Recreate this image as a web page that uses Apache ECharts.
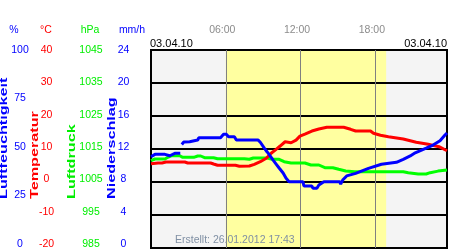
<!DOCTYPE html>
<html>
<head>
<meta charset="utf-8">
<script src="https://cdn.jsdelivr.net/npm/echarts@6/dist/echarts.min.js"></script>
<style>html,body{margin:0;padding:0;background:#fff}#c{width:450px;height:250px}</style>
</head>
<body>
<div id="c"></div>
<script>
// ---- data (hours since 00:00 of 03.04.10) ----
const humTimes = [0,0.32,1.12,1.2,1.51,1.91,2.35,2.4,2.47,2.63,3.1,3.19,3.75,3.83,5.58,5.82,6.06,6.22,6.69,6.85,8.6,8.77,8.93,9.09,9.32,9.56,9.8,10.04,10.28,10.6,10.84,11.08,12.19,12.27,12.91,12.99,13.31,13.47,13.87,15.14,15.22,15.38,15.7,16.42,17.45,18.49,19.69,20.24,20.8,21.2,22.08,22.63,23.19,23.59,23.75];
const humValues = [46.1,47.3,47.3,46.6,46.6,47.8,47.8,null,52.3,53.5,53.7,54.5,54.5,55.7,55.7,57.4,57.4,56.2,56.2,54.5,54.5,53.4,53.0,50.4,48.5,46.5,44.4,42.4,40.4,37.9,35.2,33.5,33.5,31.3,31.3,30.2,30.2,31.8,33.5,33.5,32.3,34.3,36.4,37.7,40.2,42.3,43.3,44.8,46.5,48.1,50.4,52.0,54.2,57.1,58.1];

const tempTimes = [0,0.56,0.88,1.2,2.71,2.95,4.78,5.02,5.34,6.77,7.09,7.89,8.29,8.77,9.25,9.64,10.04,10.36,10.76,11.24,11.64,11.95,12.35,12.91,13.47,14.11,15.46,16.02,16.42,17.61,17.85,18.41,19.05,20.24,21.28,22.24,23.11,23.75];
const tempValues = [5.55,5.76,5.76,6.06,6.06,5.76,5.76,5.45,5.06,5.06,4.76,4.85,5.36,6.15,7.18,8.7,9.91,10.9,12.2,11.9,12.7,13.9,14.5,15.45,16.06,16.58,16.58,15.97,15.45,15.45,14.76,14.15,13.73,13.03,12.03,11.42,10.7,9.48];

const presTimes = [0,0.32,1.12,1.35,1.67,2.31,2.55,3.43,3.75,3.99,4.3,5.02,5.34,7.49,7.89,8.21,9.33,9.72,10.28,10.68,11.24,12.35,12.83,13.47,13.95,14.59,15.06,15.62,16.34,20.24,20.64,21.44,22.08,22.4,23.03,23.75];
const presValues = [1011.45,1011.97,1011.97,1012.48,1012.97,1012.97,1012.48,1012.48,1012.88,1012.88,1012.36,1012.36,1012.06,1012.06,1011.88,1012.27,1012.27,1011.88,1011.88,1011.15,1010.76,1010.76,1010.15,1010.15,1009.33,1009.33,1008.85,1008.33,1008.12,1008.12,1007.82,1007.42,1007.42,1007.82,1008.3,1008.64];

const humTicks = ['0','25','50','75','100'];
const tempTicks = ['-20','-10','0','10','20','30','40'];
const presTicks = ['985','995','1005','1015','1025','1035','1045'];
const rainTicks = ['0','4','8','12','16','20','24'];
const timeMarks = [6,12,18];
const daylight = [6, 18.87];
const dateLabel = '03.04.10';
const createdLabel = 'Erstellt: 26.01.2012 17:43';

const FONT = '"Liberation Sans", Arial, sans-serif';
const pair = (t, v) => t.map((x, i) => [x, v[i]]);
const labelAxis = (data, color, offset) => ({
  type: 'category', gridIndex: 1, position: 'left', offset: offset, data: data,
  boundaryGap: false,
  axisLine: {show: false}, axisTick: {show: false}, splitLine: {show: false},
  axisLabel: {interval: 0, align: 'center', margin: 0, color: color, fontSize: 10.5, fontFamily: FONT}
});
const vtitle = (text, x, color) => ({
  type: 'text', x: x, y: 199, rotation: Math.PI / 2, scaleX: 1.62, scaleY: 1, z: 100,
  style: {text: text, fill: color, font: 'bold 10px ' + FONT, align: 'left', verticalAlign: 'middle'}
});
const htext = (text, x, y, color, align, size) => ({
  type: 'text', x: x, y: y, z: 100,
  style: {text: text, fill: color, font: (size || 10.5) + 'px ' + FONT, align: align || 'center', verticalAlign: 'middle'}
});

const chart = echarts.init(document.getElementById('c'), null, {renderer: 'canvas'});
chart.setOption({
  animation: false,
  grid: [
    {left: 151, right: 1, top: 50, height: 198, show: true, backgroundColor: '#f4f4f4', borderColor: '#000', borderWidth: 2},
    {left: 151, right: 1, top: 50, height: 194, show: false}
  ],
  xAxis: [
    {type: 'value', gridIndex: 0, position: 'top', min: 0, max: 23.75, interval: 6,
     axisLine: {show: false}, axisTick: {show: false}, splitLine: {show: false},
     axisLabel: {margin: 14, color: '#8c8c8c', fontSize: 10.5, fontFamily: FONT, padding: [0, 7, 0, 0],
       formatter: v => (v > 0 && v < 23 && v % 6 === 0) ? String(v).padStart(2, '0') + ':00' : ''}},
    {type: 'value', gridIndex: 1, min: 0, max: 23.75, show: false}
  ],
  yAxis: [
    {type: 'value', gridIndex: 0, min: -20, max: 40, interval: 10, z: 3,
     axisLine: {show: false}, axisTick: {show: false}, axisLabel: {show: false},
     splitLine: {show: true, lineStyle: {color: '#000', width: 2}}},
    {type: 'value', gridIndex: 0, min: 0, max: 100, show: false},
    {type: 'value', gridIndex: 0, min: 985, max: 1045, show: false},
    labelAxis(humTicks, '#0000ff', 131),
    labelAxis(tempTicks, '#ff0000', 104.5),
    labelAxis(presTicks, '#00ee00', 60),
    labelAxis(rainTicks, '#0000ff', 27.5)
  ],
  series: [
    {type: 'line', xAxisIndex: 0, yAxisIndex: 0, data: [], z: 1, silent: true,
     markArea: {silent: true, itemStyle: {color: '#ffffa0', opacity: 1},
       data: [[{xAxis: daylight[0]}, {xAxis: daylight[1]}]]},
     markLine: {silent: true, symbol: 'none', label: {show: false},
       lineStyle: {color: '#808080', width: 1, type: 'solid'},
       data: timeMarks.map(t => ({xAxis: t}))}},
    {name: 'Luftdruck', type: 'line', xAxisIndex: 0, yAxisIndex: 2, z: 5, symbol: 'none',
     lineStyle: {color: '#00ff00', width: 3}, data: pair(presTimes, presValues)},
    {name: 'Temperatur', type: 'line', xAxisIndex: 0, yAxisIndex: 0, z: 6, symbol: 'none',
     lineStyle: {color: '#ff0000', width: 3}, data: pair(tempTimes, tempValues)},
    {name: 'Luftfeuchtigkeit', type: 'line', xAxisIndex: 0, yAxisIndex: 1, z: 7, symbol: 'none',
     connectNulls: false, lineStyle: {color: '#0000ff', width: 3}, data: pair(humTimes, humValues)}
  ],
  graphic: [
    htext('%', 14, 30, '#0000ff'),
    htext('°C', 46, 30, '#ff0000'),
    htext('hPa', 90, 30, '#00ee00'),
    htext('mm/h', 132, 30, '#0000ff'),
    vtitle('Luftfeuchtigkeit', 4.5, '#0000ff'),
    vtitle('Temperatur', 35, '#ff0000'),
    vtitle('Luftdruck', 72, '#00ee00'),
    vtitle('Niederschlag', 112, '#0000ff'),
    htext(dateLabel, 150, 44, '#000', 'left', 11),
    htext(dateLabel, 447, 44, '#000', 'right', 11),
    htext(createdLabel, 175, 240, '#8090a4', 'left', 10.5)
  ]
});
</script>
</body>
</html>
